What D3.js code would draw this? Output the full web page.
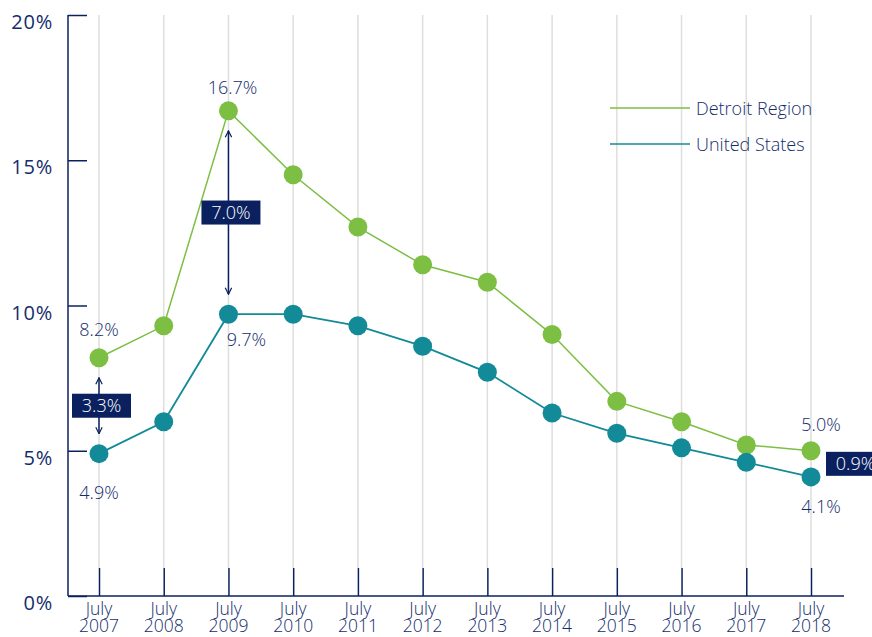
<!DOCTYPE html>
<html>
<head>
<meta charset="utf-8">
<script src="https://cdn.jsdelivr.net/npm/d3@7"></script>
<style>
  body { margin: 0; background: #fff; }
  svg { display: block; font-family: "Open Sans", "Liberation Sans", sans-serif; font-weight: 300; }
</style>
</head>
<body>
<svg id="chart" width="872" height="637"></svg>
<script>
const years = ["2007", "2008", "2009", "2010", "2011", "2012", "2013", "2014", "2015", "2016", "2017", "2018"];
const detroit = [8.2, 9.3, 16.7, 14.5, 12.7, 11.4, 10.8, 9.0, 6.7, 6.0, 5.2, 5.0];
const usa = [4.9, 6.0, 9.7, 9.7, 9.3, 8.6, 7.7, 6.3, 5.6, 5.1, 4.6, 4.1];
const yTicks = [0, 5, 10, 15, 20];
const gaps = [
  { year: "2007", top: 8.2, bottom: 4.9, label: "3.3%" },
  { year: "2009", top: 16.7, bottom: 9.7, label: "7.0%" },
  { year: "2018", top: 5.0, bottom: 4.1, label: "0.9%" }
];

const green = "#7cbf43", teal = "#138a97", navy = "#0b215f", textCol = "#142c6c";
const width = 872, height = 637;
const svg = d3.select("#chart");

// scales
const x = d3.scalePoint().domain(years).range([99, 811]);
const y = d3.scaleLinear().domain([0, 20]).range([596, 15]);
const axisLeftX = 68, axisRightX = 844;

// gridlines
svg.append("g")
  .selectAll("line")
  .data(years)
  .join("line")
  .attr("x1", d => x(d)).attr("x2", d => x(d))
  .attr("y1", y(20)).attr("y2", 568)
  .attr("stroke", "#dedede").attr("stroke-width", 1.5);

// y axis
const yAxis = svg.append("g").attr("transform", `translate(${axisLeftX},0)`)
  .call(d3.axisRight(y).tickValues(yTicks).tickSize(19).tickFormat(""));
yAxis.select(".domain").remove();
yAxis.selectAll("line").attr("stroke", navy).attr("stroke-width", 1.5);
svg.append("line")
  .attr("x1", axisLeftX).attr("x2", axisLeftX)
  .attr("y1", y(20)).attr("y2", y(0))
  .attr("stroke", navy).attr("stroke-width", 1.5);
svg.append("g").selectAll("text")
  .data(yTicks)
  .join("text")
  .attr("x", 53).attr("y", d => y(d) + 14)
  .attr("text-anchor", "end")
  .attr("font-size", 20)
  .attr("font-weight", 400)
  .attr("letter-spacing", 0.8)
  .attr("fill", textCol)
  .text(d => d + "%");

// x axis
const xAxis = svg.append("g").attr("transform", `translate(0,${y(0)})`)
  .call(d3.axisTop(x).tickSize(28).tickFormat(""));
xAxis.select(".domain").remove();
xAxis.selectAll("line").attr("stroke", navy).attr("stroke-width", 1.5);
svg.append("line")
  .attr("x1", axisLeftX).attr("x2", axisRightX)
  .attr("y1", y(0)).attr("y2", y(0))
  .attr("stroke", navy).attr("stroke-width", 1.5);
const xl = svg.append("g").selectAll("text")
  .data(years)
  .join("text")
  .attr("x", d => x(d))
  .attr("text-anchor", "middle")
  .attr("font-size", 17.5)
  .attr("fill", textCol);
xl.append("tspan").attr("x", d => x(d)).attr("y", 615).text("July");
xl.append("tspan").attr("x", d => x(d)).attr("y", 632).text(d => d);

// lines and dots
const line = d3.line().x((d, i) => x(years[i])).y(d => y(d));
svg.append("path").datum(detroit).attr("d", line)
  .attr("fill", "none").attr("stroke", green).attr("stroke-width", 1.5);
svg.append("path").datum(usa).attr("d", line)
  .attr("fill", "none").attr("stroke", teal).attr("stroke-width", 1.8);
svg.append("g").selectAll("circle").data(detroit).join("circle")
  .attr("cx", (d, i) => x(years[i])).attr("cy", d => y(d)).attr("r", 9.5)
  .attr("fill", green);
svg.append("g").selectAll("circle").data(usa).join("circle")
  .attr("cx", (d, i) => x(years[i])).attr("cy", d => y(d)).attr("r", 9.5)
  .attr("fill", teal);

// value labels
const valueLabels = [
  { year: "2007", v: 8.2, dx: 0, dy: -22 },
  { year: "2007", v: 4.9, dx: 0, dy: 45 },
  { year: "2009", v: 16.7, dx: 4, dy: -17 },
  { year: "2009", v: 9.7, dx: 18, dy: 32 },
  { year: "2018", v: 5.0, dx: 10, dy: -20 },
  { year: "2018", v: 4.1, dx: 10, dy: 36 }
];
svg.append("g").selectAll("text").data(valueLabels).join("text")
  .attr("x", d => x(d.year) + d.dx).attr("y", d => y(d.v) + d.dy)
  .attr("text-anchor", "middle")
  .attr("font-size", 18)
  .attr("fill", textCol)
  .text(d => d.v.toFixed(1) + "%");

// gap arrows
const defs = svg.append("defs");
defs.append("marker").attr("id", "arr").attr("viewBox", "0 0 10 10")
  .attr("refX", 9).attr("refY", 5).attr("markerWidth", 8).attr("markerHeight", 8)
  .attr("orient", "auto-start-reverse").attr("markerUnits", "userSpaceOnUse")
  .append("path").attr("d", "M1,1 L9,5 L1,9").attr("fill", "none")
  .attr("stroke", navy).attr("stroke-width", 1.5);

const gapX = { "2007": 0, "2009": 0, "2018": 37 };
gaps.forEach(g => {
  const gx = x(g.year) + gapX[g.year];
  const y1 = y(g.top) + 20, y2 = y(g.bottom) - 20;
  svg.append("line")
    .attr("x1", gx).attr("x2", gx)
    .attr("y1", y1).attr("y2", y2)
    .attr("stroke", navy).attr("stroke-width", 1.5)
    .attr("marker-start", "url(#arr)").attr("marker-end", "url(#arr)");
  const mid = (y(g.top) + y(g.bottom)) / 2;
  const bx = g.year === "2018" ? 826 : gx - 27;
  svg.append("rect")
    .attr("x", bx).attr("y", mid - 12).attr("width", 59).attr("height", 24)
    .attr("fill", navy);
  svg.append("text")
    .attr("x", bx + 29.5).attr("y", mid + 6.5)
    .attr("text-anchor", "middle").attr("font-size", 18)
    .attr("fill", "#ffffff").text(g.label);
});

// legend
const legend = [
  { name: "Detroit Region", color: green, y: 108 },
  { name: "United States", color: teal, y: 144 }
];
const lg = svg.append("g").selectAll("g").data(legend).join("g");
lg.append("line").attr("x1", 610).attr("x2", 690)
  .attr("y1", d => d.y).attr("y2", d => d.y)
  .attr("stroke", d => d.color).attr("stroke-width", 1.5);
lg.append("text").attr("x", 696).attr("y", d => d.y + 6.5)
  .attr("font-size", 18).attr("fill", textCol).text(d => d.name);
</script>
</body>
</html>
